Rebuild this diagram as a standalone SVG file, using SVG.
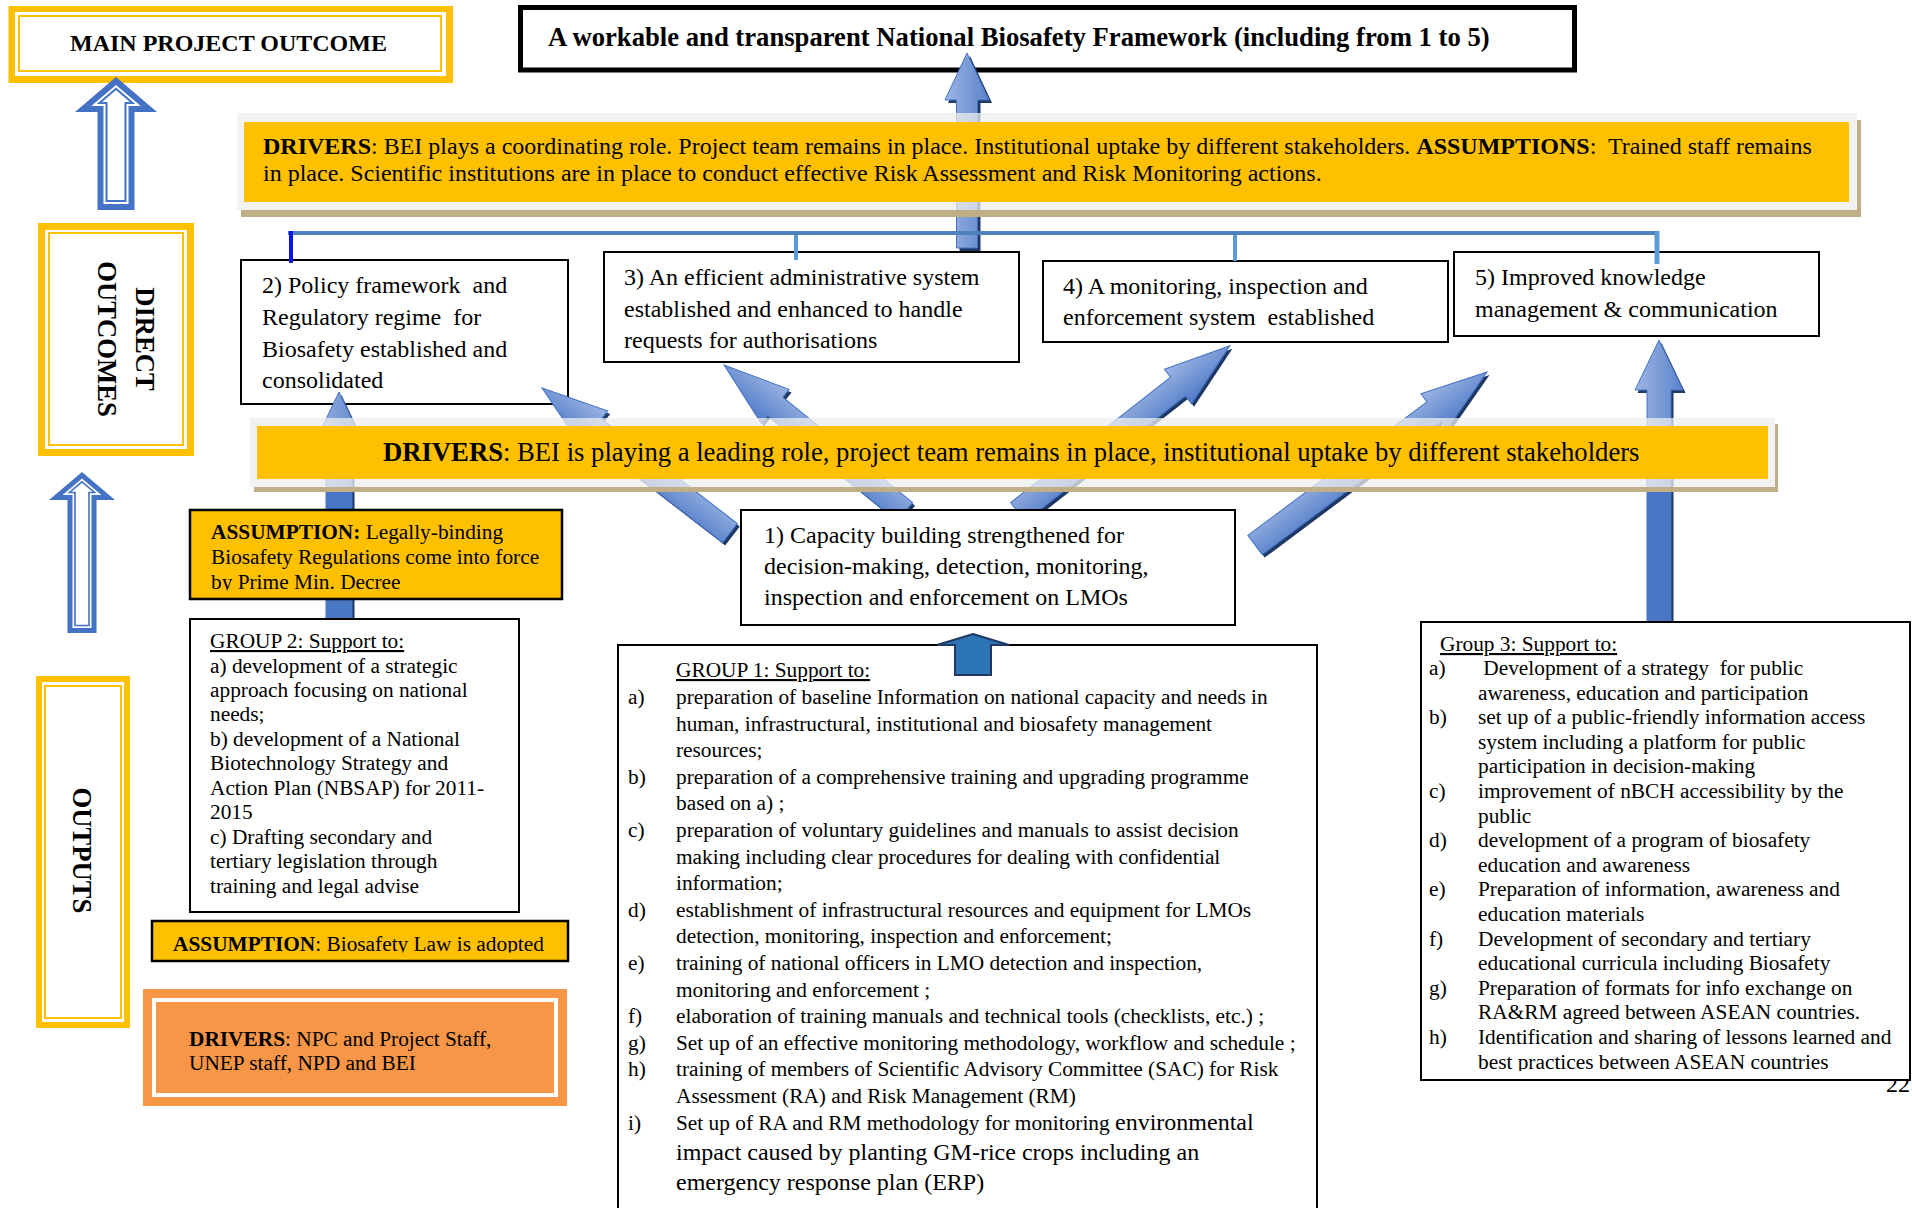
<svg xmlns="http://www.w3.org/2000/svg" width="1912" height="1208" viewBox="0 0 1912 1208">
<style>
.t{font-family:'Liberation Serif','Times New Roman',serif;fill:#000}
.s16{font-size:21.33px}
.s18{font-size:24px}
.s20{font-size:26.67px}
.b{font-weight:bold}
.u{text-decoration:underline}
.box{fill:#fff;stroke:#000;stroke-width:2}
.yel{fill:#FFC000;stroke:#000;stroke-width:2.5}
.arr{stroke:#4472C4;stroke-width:1}
.sh{fill:#1F3864}
.gray{fill:#EDEDED;fill-opacity:0.75}
.tan{fill:#C0AF86}
.band{fill:#FFC000}
</style>
<defs>
<linearGradient id="gV" x1="0" y1="0" x2="1" y2="0"><stop offset="0" stop-color="#9DB5E2"/><stop offset="1" stop-color="#5B83CC"/></linearGradient>
<linearGradient id="gD1" x1="0" y1="0" x2="0" y2="1"><stop offset="0" stop-color="#9DB5E2"/><stop offset="1" stop-color="#4F7AC8"/></linearGradient>
<linearGradient id="gD2" x1="0" y1="1" x2="0" y2="0"><stop offset="0" stop-color="#9DB5E2"/><stop offset="1" stop-color="#4F7AC8"/></linearGradient>
<clipPath id="cA1"><rect x="189" y="505" width="374" height="85.5"/></clipPath>
<clipPath id="cA2"><rect x="151" y="915" width="418" height="37.5"/></clipPath>
<clipPath id="cG3"><rect x="1421" y="622" width="491" height="449"/></clipPath>
<filter id="blur" x="-5%" y="-200%" width="110%" height="500%"><feGaussianBlur stdDeviation="2.5"/></filter>
</defs>
<rect width="1912" height="1208" fill="#fff"/>

<!-- left column -->
<g id="main-outcome">
<rect x="8.5" y="6" width="444.5" height="77" fill="#FFC000"/>
<rect x="15" y="12" width="431" height="64" fill="#fff"/>
<rect x="19" y="16" width="422" height="55" fill="none" stroke="#FFC000" stroke-width="2"/>
<text class="t s18 b" x="70" y="51">MAIN PROJECT OUTCOME</text>
</g>
<g id="arrow-left-1">
<path d="M116,77 L157,112 L134.5,112 L134.5,210 L97.5,210 L97.5,112 L75,112 Z" fill="#4472C4"/>
<path d="M116,84.9 L140.7,106 L128.5,106 L128.5,204 L103.5,204 L103.5,106 L91.3,106 Z" fill="#fff"/>
<path d="M116,88.8 L132.6,103 L125.5,103 L125.5,201 L106.5,201 L106.5,103 L99.4,103 Z" fill="#fff" stroke="#4472C4" stroke-width="2"/>
</g>
<g id="direct-outcomes">
<rect x="38" y="223" width="156" height="233" fill="#FFC000"/>
<rect x="45" y="230" width="142" height="219" fill="#fff"/>
<rect x="49" y="233" width="134" height="212" fill="none" stroke="#FFC000" stroke-width="2"/>
<g transform="translate(116,339) rotate(90)">
<text class="t s20 b" x="0" y="-20" text-anchor="middle">DIRECT</text>
<text class="t s20 b" x="0" y="18" text-anchor="middle">OUTCOMES</text>
</g>
</g>
<g id="arrow-left-2">
<path d="M82,472 L115,500 L96.5,500 L96.5,633 L67.5,633 L67.5,500 L49,500 Z" fill="#4472C4"/>
<path d="M82,478.6 L101.4,495 L91.5,495 L91.5,628 L72.5,628 L72.5,495 L62.6,495 Z" fill="#fff"/>
<path d="M82,481.8 L94.6,492.5 L89,492.5 L89,625.5 L75,625.5 L75,492.5 L69.4,492.5 Z" fill="#fff" stroke="#4472C4" stroke-width="1.6"/>
</g>
<g id="outputs">
<rect x="36" y="676" width="94" height="352" fill="#FFC000"/>
<rect x="42" y="682" width="82" height="340" fill="#fff"/>
<rect x="45" y="686" width="76" height="332" fill="none" stroke="#FFC000" stroke-width="2"/>
<g transform="translate(83,850.5) rotate(90)">
<text class="t s20 b" x="0" y="10" text-anchor="middle">OUTPUTS</text>
</g>
</g>

<!-- title -->
<g id="title">
<rect x="520.5" y="7.5" width="1054" height="62.5" fill="#fff" stroke="#000" stroke-width="5"/>
<text class="t s20 b" x="548" y="46">A workable and transparent National Biosafety Framework (including from 1 to 5)</text>
</g>

<!-- outcome boxes -->
<g id="outcome-2">
<rect class="box" x="241" y="260" width="327" height="144"/>
<text class="t s18" x="262" y="293" xml:space="preserve">2) Policy framework  and</text>
<text class="t s18" x="262" y="325" xml:space="preserve">Regulatory regime  for</text>
<text class="t s18" x="262" y="357">Biosafety established and</text>
<text class="t s18" x="262" y="388">consolidated</text>
</g>
<g id="outcome-3">
<rect class="box" x="604" y="252" width="415" height="110"/>
<text class="t s18" x="624" y="285">3) An efficient administrative system</text>
<text class="t s18" x="624" y="317">established and enhanced to handle</text>
<text class="t s18" x="624" y="348">requests for authorisations</text>
</g>
<g id="outcome-4">
<rect class="box" x="1043" y="261" width="405" height="81"/>
<text class="t s18" x="1063" y="294">4) A monitoring, inspection and</text>
<text class="t s18" x="1063" y="325" xml:space="preserve">enforcement system  established</text>
</g>
<g id="outcome-5">
<rect class="box" x="1454" y="252" width="365" height="84"/>
<text class="t s18" x="1475" y="285">5) Improved knowledge</text>
<text class="t s18" x="1475" y="317">management &amp; communication</text>
</g>

<!-- arrow to title (under top band) -->
<g id="connector-top-arrow">
<path class="sh" transform="translate(3,3)" d="M967,53 L989,100 L977.5,100 L977.5,248 L956.5,248 L956.5,100 L945,100 Z"/>
<path class="arr" fill="url(#gV)" d="M967,53 L989,100 L977.5,100 L977.5,248 L956.5,248 L956.5,100 L945,100 Z"/>
</g>

<!-- top drivers band -->
<g id="drivers-top">
<rect class="tan" x="241" y="210" width="1620" height="7"/>
<rect class="tan" x="1857" y="120" width="4" height="97"/>
<rect class="gray" x="237" y="113" width="1620" height="97"/>
<rect class="band" x="244" y="122" width="1605" height="80"/>
<text class="t s18" x="263" y="154" xml:space="preserve"><tspan class="b">DRIVERS</tspan>: BEI plays a coordinating role. Project team remains in place. Institutional uptake by different stakeholders. <tspan class="b">ASSUMPTIONS</tspan>:  Trained staff remains</text>
<text class="t s18" x="263" y="181">in place. Scientific institutions are in place to conduct effective Risk Assessment and Risk Monitoring actions.</text>
</g>

<!-- connector lines -->
<g id="connectors-lines">
<line x1="290" y1="238" x2="1655" y2="238" stroke="#000" stroke-opacity="0.22" stroke-width="4" filter="url(#blur)"/>
<line x1="288" y1="233" x2="1659" y2="233" stroke="#4F81BD" stroke-width="4"/>
<line x1="291" y1="231" x2="291" y2="263" stroke="#0A14F0" stroke-width="4"/>
<line x1="796" y1="235" x2="796" y2="260" stroke="#5B9BD5" stroke-width="4"/>
<line x1="1235" y1="235" x2="1235" y2="261" stroke="#5B9BD5" stroke-width="4"/>
<line x1="1657" y1="231" x2="1657" y2="264" stroke="#5B9BD5" stroke-width="5"/>
</g>

<!-- arrows from capacity building / outputs -->
<g id="connectors-arrows">
<g transform="translate(2.5,3)">
<path class="sh" transform="translate(730,533) rotate(-142.36)" d="M0,-12 L171.4,-12 L171.4,-22 L237.4,0 L171.4,22 L171.4,12 L0,12 Z"/>
<path class="sh" transform="translate(905,512) rotate(-140.9)" d="M0,-12 L167.2,-12 L167.2,-22 L233.2,0 L167.2,22 L167.2,12 L0,12 Z"/>
<path class="sh" transform="translate(1018,512) rotate(-38.1)" d="M0,-12 L203.3,-12 L203.3,-22 L269.3,0 L203.3,22 L203.3,12 L0,12 Z"/>
<path class="sh" transform="translate(1255,545) rotate(-36.7)" d="M0,-12 L223.4,-12 L223.4,-22 L289.4,0 L223.4,22 L223.4,12 L0,12 Z"/>
<path class="sh" d="M339,392 L363,442 L352,442 L352,619 L326,619 L326,442 L315,442 Z"/>
<path class="sh" d="M1659,340 L1683,390 L1671,390 L1671,622 L1647,622 L1647,390 L1635,390 Z"/>
</g>
<path class="arr" fill="url(#gD2)" transform="translate(730,533) rotate(-142.36)" d="M0,-12 L171.4,-12 L171.4,-22 L237.4,0 L171.4,22 L171.4,12 L0,12 Z"/>
<path class="arr" fill="url(#gD2)" transform="translate(905,512) rotate(-140.9)" d="M0,-12 L167.2,-12 L167.2,-22 L233.2,0 L167.2,22 L167.2,12 L0,12 Z"/>
<path class="arr" fill="url(#gD1)" transform="translate(1018,512) rotate(-38.1)" d="M0,-12 L203.3,-12 L203.3,-22 L269.3,0 L203.3,22 L203.3,12 L0,12 Z"/>
<path class="arr" fill="url(#gD1)" transform="translate(1255,545) rotate(-36.7)" d="M0,-12 L223.4,-12 L223.4,-22 L289.4,0 L223.4,22 L223.4,12 L0,12 Z"/>
<path class="arr" fill="url(#gV)" d="M339,392 L363,442 L352,442 L352,619 L326,619 L326,442 L315,442 Z"/>
<path class="arr" fill="url(#gV)" d="M1659,340 L1683,390 L1671,390 L1671,622 L1647,622 L1647,390 L1635,390 Z"/>
<rect x="326" y="487" width="26" height="132" fill="#4A76C6"/>
<rect x="1647" y="487" width="24" height="135" fill="#4A76C6"/>
</g>

<!-- middle drivers band -->
<g id="drivers-middle">
<rect class="tan" x="254" y="487" width="1524" height="5"/>
<rect class="tan" x="1775" y="424" width="3" height="68"/>
<rect class="gray" x="250" y="418" width="1525" height="69"/>
<rect class="band" x="257" y="426" width="1511" height="53"/>
<text class="t s20" x="383" y="461"><tspan class="b">DRIVERS</tspan>: BEI is playing a leading role, project team remains in place, institutional uptake by different stakeholders</text>
</g>

<g id="outcome-1">
<rect class="box" x="741" y="510" width="494" height="115"/>
<text class="t s18" x="764" y="543">1) Capacity building strengthened for</text>
<text class="t s18" x="764" y="574">decision-making, detection, monitoring,</text>
<text class="t s18" x="764" y="605">inspection and enforcement on LMOs</text>
</g>

<g id="assumption-1">
<rect class="yel" x="190" y="510" width="372" height="89"/>
<g clip-path="url(#cA1)">
<text class="t s16" x="211" y="539"><tspan class="b">ASSUMPTION:</tspan> Legally-binding</text>
<text class="t s16" x="211" y="564">Biosafety Regulations come into force</text>
<text class="t s16" x="211" y="589">by Prime Min. Decree</text>
</g>
</g>

<g id="group-2">
<rect class="box" x="190" y="619" width="329" height="293"/>
<text class="t s16 u" x="210" y="648">GROUP 2: Support to:</text>
<text class="t s16" x="210" y="672.5">a) development of a strategic</text>
<text class="t s16" x="210" y="697">approach focusing on national</text>
<text class="t s16" x="210" y="721.4">needs;</text>
<text class="t s16" x="210" y="745.8">b) development of a National</text>
<text class="t s16" x="210" y="770.3">Biotechnology Strategy and</text>
<text class="t s16" x="210" y="794.7">Action Plan (NBSAP) for 2011-</text>
<text class="t s16" x="210" y="819.2">2015</text>
<text class="t s16" x="210" y="843.6">c) Drafting secondary and</text>
<text class="t s16" x="210" y="868">tertiary legislation through</text>
<text class="t s16" x="210" y="892.5">training and legal advise</text>
</g>

<g id="assumption-2">
<rect class="yel" x="152" y="921" width="416" height="40"/>
<g clip-path="url(#cA2)">
<text class="t s16" x="173" y="951"><tspan class="b">ASSUMPTION</tspan>: Biosafety Law is adopted</text>
</g>
</g>

<g id="drivers-outputs">
<rect x="143" y="989" width="424" height="117" fill="#F79646"/>
<rect x="154" y="1000" width="402" height="95" fill="none" stroke="#fff" stroke-width="4"/>
<text class="t s16" x="189" y="1046"><tspan class="b">DRIVERS</tspan>: NPC and Project Staff,</text>
<text class="t s16" x="189" y="1070">UNEP staff, NPD and BEI</text>
</g>

<g id="group-1">
<rect class="box" x="618" y="645" width="699" height="600"/>
<text class="t s16 u" x="676" y="677">GROUP 1: Support to:</text>
<text class="t s16" x="628" y="704">a)</text>
<text class="t s16" x="676" y="704">preparation of baseline Information on national capacity and needs in</text>
<text class="t s16" x="676" y="730.6">human, infrastructural, institutional and biosafety management</text>
<text class="t s16" x="676" y="757.2">resources;</text>
<text class="t s16" x="628" y="783.8">b)</text>
<text class="t s16" x="676" y="783.8">preparation of a comprehensive training and upgrading programme</text>
<text class="t s16" x="676" y="810.4">based on a) ;</text>
<text class="t s16" x="628" y="837">c)</text>
<text class="t s16" x="676" y="837">preparation of voluntary guidelines and manuals to assist decision</text>
<text class="t s16" x="676" y="863.6">making including clear procedures for dealing with confidential</text>
<text class="t s16" x="676" y="890.2">information;</text>
<text class="t s16" x="628" y="916.8">d)</text>
<text class="t s16" x="676" y="916.8">establishment of infrastructural resources and equipment for LMOs</text>
<text class="t s16" x="676" y="943.4">detection, monitoring, inspection and enforcement;</text>
<text class="t s16" x="628" y="970">e)</text>
<text class="t s16" x="676" y="970">training of national officers in LMO detection and inspection,</text>
<text class="t s16" x="676" y="996.6">monitoring and enforcement ;</text>
<text class="t s16" x="628" y="1023.2">f)</text>
<text class="t s16" x="676" y="1023.2">elaboration of training manuals and technical tools (checklists, etc.) ;</text>
<text class="t s16" x="628" y="1049.8">g)</text>
<text class="t s16" x="676" y="1049.8">Set up of an effective monitoring methodology, workflow and schedule ;</text>
<text class="t s16" x="628" y="1076.4">h)</text>
<text class="t s16" x="676" y="1076.4">training of members of Scientific Advisory Committee (SAC) for Risk</text>
<text class="t s16" x="676" y="1103">Assessment (RA) and Risk Management (RM)</text>
<text class="t s16" x="628" y="1130">i)</text>
<text class="t s16" x="676" y="1130">Set up of RA and RM methodology for monitoring <tspan class="s18">environmental</tspan></text>
<text class="t s18" x="676" y="1160">impact caused by planting GM-rice crops including an</text>
<text class="t s18" x="676" y="1190">emergency response plan (ERP)</text>
</g>

<g id="connector-group1-arrow">
<path d="M973,634 L1009,645 L991,645 L991,675 L955,675 L955,645 L937,645 Z" fill="#2E75B6" stroke="#1F3864" stroke-width="2"/>
</g>

<text class="t s18" x="1886" y="1092">22</text>
<g id="group-3">
<rect class="box" x="1421" y="622" width="489" height="458"/>
<g clip-path="url(#cG3)">
<text class="t s16 u" x="1440" y="651">Group 3: Support to:</text>
<text class="t s16" x="1429" y="675">a)</text>
<text class="t s16" x="1478" y="675" xml:space="preserve"> Development of a strategy  for public</text>
<text class="t s16" x="1478" y="699.6">awareness, education and participation</text>
<text class="t s16" x="1429" y="724.2">b)</text>
<text class="t s16" x="1478" y="724.2">set up of a public-friendly information access</text>
<text class="t s16" x="1478" y="748.8">system including a platform for public</text>
<text class="t s16" x="1478" y="773.4">participation in decision-making</text>
<text class="t s16" x="1429" y="798">c)</text>
<text class="t s16" x="1478" y="798">improvement of nBCH accessibility by the</text>
<text class="t s16" x="1478" y="822.6">public</text>
<text class="t s16" x="1429" y="847.2">d)</text>
<text class="t s16" x="1478" y="847.2">development of a program of biosafety</text>
<text class="t s16" x="1478" y="871.8">education and awareness</text>
<text class="t s16" x="1429" y="896.4">e)</text>
<text class="t s16" x="1478" y="896.4">Preparation of information, awareness and</text>
<text class="t s16" x="1478" y="921">education materials</text>
<text class="t s16" x="1429" y="945.6">f)</text>
<text class="t s16" x="1478" y="945.6">Development of secondary and tertiary</text>
<text class="t s16" x="1478" y="970.2">educational curricula including Biosafety</text>
<text class="t s16" x="1429" y="994.8">g)</text>
<text class="t s16" x="1478" y="994.8">Preparation of formats for info exchange on</text>
<text class="t s16" x="1478" y="1019.4">RA&amp;RM agreed between ASEAN countries.</text>
<text class="t s16" x="1429" y="1044">h)</text>
<text class="t s16" x="1478" y="1044">Identification and sharing of lessons learned and</text>
<text class="t s16" x="1478" y="1068.6">best practices between ASEAN countries</text>
</g>
</g>
</svg>
